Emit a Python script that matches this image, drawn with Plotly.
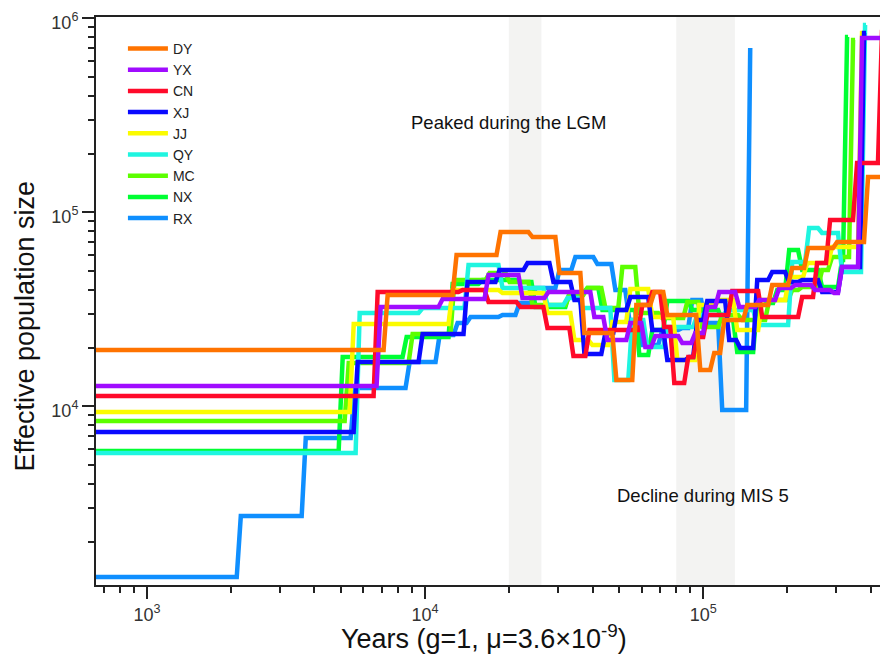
import numpy as np
import plotly.graph_objects as go

# ---------------- data ----------------
names = ["DY", "YX", "CN", "XJ", "JJ", "QY", "MC", "NX", "RX"]
colors = ["#ff7300", "#a00cff", "#ff0a2a", "#0a0aff", "#fbfb00",
          "#1ff5e0", "#5cff00", "#00ff33", "#0f8fff"]

DY_years = [640, 7214, 12760, 18370, 23930, 29910, 36780, 47920, 56530, 65600, 73040,
            95960, 107720, 117010, 141570, 174070, 205380, 234420, 297900, 384900, 470000]
DY_ne = [19510, 37480, 60260, 79140, 74590, 48660, 23870, 13670, 33290, 38840, 29560,
         15390, 18830, 27860, 33290, 42200, 51640, 65470, 70310, 152100, 152100]

YX_years = [640, 6807, 11370, 16630, 22030, 27310, 39940, 44480, 53790, 60890, 66140,
            82690, 92070, 101670, 112270, 132500, 156360, 184430, 210550, 248300, 290600,
            310400, 366300, 470000]
YX_ne = [12720, 32510, 35740, 47520, 36170, 38840, 28860, 21970, 26880, 20210, 23040,
         21200, 23870, 32510, 38840, 32510, 35320, 40720, 42200, 39770, 38380,
         52260, 791800, 791800]

CN_years = [640, 6641, 13410, 16630, 21670, 27080, 33580, 38340, 59400, 64520, 71240,
            77400, 86890, 93610, 101670, 125030, 160290, 223060, 252450, 281100, 351500,
            432100, 446600]
CN_ne = [11300, 38840, 39770, 34490, 32510, 25330, 18170, 24740, 33290, 38840, 25630,
         13190, 17960, 22760, 29560, 39300, 28860, 36600, 54800, 91300, 179600,
         850100, 850100]

XJ_years = [640, 5629, 9634, 13980, 18210, 22960, 28460, 33860, 36780, 43750, 48310,
            53790, 64520, 73040, 87610, 93610, 101670, 121960, 133600, 153790, 174070,
            200350, 223060, 263100, 310400, 372400, 384900]
XJ_ne = [7371, 16920, 23590, 43730, 50420, 54800, 43730, 35320, 18610, 23870, 31370,
         36600, 24740, 17330, 17960, 27860, 34900, 21970, 19970, 44780, 49240,
         43730, 44780, 38840, 52260, 840100, 840100]

JJ_years = [640, 5447, 12350, 18670, 27080, 33860, 39300, 46360, 53790, 64520, 79340,
            95170, 112270, 130320, 160290, 200350, 232500, 285800, 366300, 375500]
JJ_ne = [9346, 26560, 39770, 38380, 30270, 21970, 20700, 27200, 40240, 28860, 17330,
         33290, 35320, 24740, 35320, 46400, 54800, 66260, 840100, 840100]

QY_years = [640, 5723, 9634, 14090, 18670, 27080, 31950, 36180, 47130, 54690, 61910,
            73040, 93610, 119950, 153790, 205380, 236380, 263100, 310400, 375500, 384900]
QY_ne = [5745, 30270, 32120, 53510, 40720, 33290, 36170, 32120, 13670, 27860, 20210,
         25630, 29560, 31370, 26250, 55450, 83010, 78230, 49240, 923900, 923900]

MC_years = [640, 5226, 8870, 12550, 16770, 19790, 23930, 32490, 37710, 43750, 50350,
            57950, 70070, 86170, 97540, 115090, 135830, 169800, 205380, 223060, 263100,
            285800, 340000, 351500]
MC_ne = [8397, 16720, 23590, 44780, 48660, 43730, 33290, 37480, 40720, 32120, 52260,
         30270, 28520, 34490, 25630, 29560, 27860, 35320, 39770, 41210, 50420,
         58850, 773200, 773200]

NX_years = [640, 4973, 8440, 12350, 15820, 21490, 24530, 32490, 37710, 42680, 57950,
            64520, 73040, 89810, 115090, 130320, 153790, 181400, 200350, 223060, 263100,
            310400, 323600, 331700]
NX_ne = [5883, 17960, 22760, 42700, 44780, 43730, 32510, 38380, 40720, 31370, 18390,
         24740, 34900, 31370, 27860, 19050, 34080, 39770, 63930, 50420, 41210,
         56780, 801300, 801300]

RX_years = [640, 2139, 3662, 5492, 8652, 11090, 12870, 14330, 18670, 21490, 24530,
            29910, 34130, 40950, 47530, 53350, 59400, 70070, 82690, 89810, 100000,
            115090, 145110, 147560]
RX_ne = [1318, 2720, 6864, 12430, 16920, 23310, 26880, 28860, 29560, 34080, 40720,
         50420, 58850, 54150, 39770, 27860, 20700, 24740, 25330, 35320, 26880,
         9570, 703100, 703100]

series = {
    "DY": (DY_years, DY_ne), "YX": (YX_years, YX_ne), "CN": (CN_years, CN_ne),
    "XJ": (XJ_years, XJ_ne), "JJ": (JJ_years, JJ_ne), "QY": (QY_years, QY_ne),
    "MC": (MC_years, MC_ne), "NX": (NX_years, NX_ne), "RX": (RX_years, RX_ne),
}

lgm_band = [20000, 26200]
mis5_band = [80000, 130000]
x_limits = [656, 461700]
y_limits = [1200, 1016000]
x_major = [1e3, 1e4, 1e5]
y_major = [1e4, 1e5, 1e6]
labels = [("Peaked during the LGM", 20000, 292000), ("Decline during MIS 5", 100000, 3490)]
x_title = "Years (g=1, μ=3.6×10<sup>-9</sup>)"
y_title = "Effective population size"

FONT = "Liberation Sans, Arial, sans-serif"
SLANT = 1.017  # small horizontal lean of each step riser (multiplicative, log axis)


def step_path(xs, ys):
    """Steps drawn with slightly leaning risers."""
    px, py = [xs[0]], [ys[0]]
    for i in range(1, len(xs)):
        if ys[i] == ys[i - 1]:
            px.append(xs[i]); py.append(ys[i])
            continue
        px += [xs[i] / SLANT, xs[i] * SLANT]
        py += [ys[i - 1], ys[i]]
    return px, py


# ---------------- figure ----------------
fig = go.Figure()
for name, col in reversed(list(zip(names, colors))):
    xs, ys = step_path(*series[name])
    fig.add_trace(go.Scatter(x=xs, y=ys, mode="lines", name=name,
                             line=dict(color=col, width=4.5)))

for band in (lgm_band, mis5_band):
    fig.add_shape(type="rect", xref="x", yref="paper", x0=band[0], x1=band[1],
                  y0=0, y1=1, fillcolor="#f3f3f2", line=dict(width=0), layer="below")

for txt, xv, yv in labels:
    fig.add_annotation(x=np.log10(xv), y=np.log10(yv), text=txt, showarrow=False,
                       font=dict(family=FONT, size=18.5, color="#111"))

# axis titles
fig.add_annotation(xref="paper", yref="paper", x=-0.0896, y=0.455, text=y_title,
                   textangle=-90, showarrow=False, xanchor="center", yanchor="middle",
                   font=dict(family=FONT, size=27, color="#111"))
fig.add_annotation(xref="paper", yref="paper", x=0.49, y=-0.0915, text=x_title,
                   showarrow=False, xanchor="center", yanchor="middle",
                   font=dict(family=FONT, size=27, color="#111"))


def minor_vals(lo, hi):
    out = []
    for d in range(2, 7):
        for m in range(2, 10):
            v = m * 10 ** d
            if lo < v < hi:
                out.append(v)
    return out


sup = lambda v: "10<sup>%d</sup>" % int(round(np.log10(v)))

common = dict(type="log", tickmode="array", ticks="outside", ticklen=12, tickwidth=1.5,
              tickcolor="#222", showline=True, linewidth=2, linecolor="#222", mirror=True,
              showgrid=False, zeroline=False, automargin=False, ticklabeloverflow="allow",
              tickfont=dict(family=FONT, size=18, color="#333"))

fig.update_xaxes(range=[np.log10(x_limits[0]), np.log10(x_limits[1])],
                 tickvals=x_major, ticktext=[sup(v) for v in x_major],
                 minor=dict(tickmode="array", tickvals=minor_vals(*x_limits), ticks="outside",
                            ticklen=6, tickwidth=1.5, tickcolor="#222"), **common)
fig.update_yaxes(range=[np.log10(y_limits[0]), np.log10(y_limits[1])],
                 tickvals=y_major, ticktext=[sup(v) for v in y_major], ticklabelshift=4,
                 minor=dict(tickmode="array", tickvals=minor_vals(*y_limits), ticks="outside",
                            ticklen=6, tickwidth=1.5, tickcolor="#222"), **common)

fig.update_layout(
    width=880, height=646,
    margin=dict(l=88, r=0, t=9, b=69),
    paper_bgcolor="white", plot_bgcolor="white",
    font=dict(family=FONT),
    legend=dict(x=0.034, y=0.972, xanchor="left", yanchor="top", traceorder="reversed",
                itemwidth=40, bgcolor="rgba(0,0,0,0)",
                font=dict(family=FONT, size=14, color="#222")),
    showlegend=True,
)

fig.write_html("out.html")
